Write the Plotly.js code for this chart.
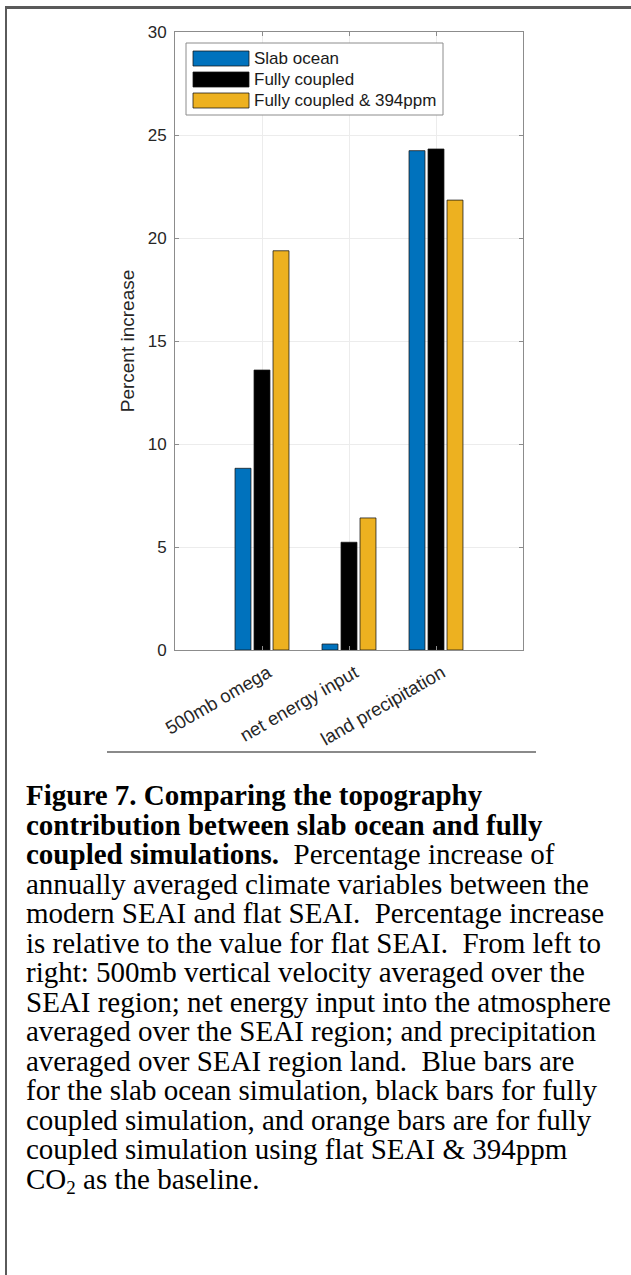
<!DOCTYPE html>
<html>
<head>
<meta charset="utf-8">
<script src="https://cdn.plot.ly/plotly-3.0.1.min.js"></script>
<style>
  html, body { margin: 0; padding: 0; background: #ffffff; }
  body { position: relative; width: 631px; height: 1275px; overflow: hidden; }
  #chart { position: absolute; left: 0; top: 0; width: 631px; height: 760px; }
  .rule { position: absolute; }
  #frameTop { left: 5px; top: 6px; width: 626px; height: 2.5px; background: #5a5a5a; }
  #frameLeft { left: 5px; top: 6px; width: 2px; height: 1269px; background: #5a5a5a; }
  #separator { left: 107px; top: 751px; width: 429px; height: 1.5px; background: #8a8a8a; }
  #caption {
    position: absolute; left: 26px; top: 781px;
    font-family: "Liberation Serif", "Times New Roman", serif;
    font-size: 29px; color: #000;
  }
  #caption .ln { height: 29.5px; line-height: 29.5px; white-space: pre; }
  #caption .ln b { display: inline-block; height: 29.5px; line-height: 29.5px; font-weight: bold; }
  #caption .ln .sub { display: inline-block; font-size: 19px; line-height: 10px; height: 10px; vertical-align: -5px; }
</style>
</head>
<body>
<div class="rule" id="frameTop"></div>
<div class="rule" id="frameLeft"></div>
<div id="chart"></div>
<div class="rule" id="separator"></div>
<div id="caption"></div>
<script>
// Percent increase (modern vs. flat SEAI) for three climate variables
const categories = ['500mb omega', 'net energy input', 'land precipitation'];
const seriesNames = ['Slab ocean', 'Fully coupled', 'Fully coupled & 394ppm'];
const slabOcean = [8.82, 0.29, 24.24];
const fullyCoupled = [13.59, 5.23, 24.32];
const coupled394 = [19.38, 6.41, 21.84];
const yTickValues = [0, 5, 10, 15, 20, 25, 30];

const seriesValues = [slabOcean, fullyCoupled, coupled394];
const seriesColors = ['#0072BD', '#000000', '#EDB120'];

// plot area in page pixels
const M = { l: 175, r: 108, t: 32, b: 110 };
const W = 631, H = 760;
const plotW = W - M.l - M.r, plotH = H - M.t - M.b;
const px = x => (x - M.l) / plotW;          // page x -> paper x
const py = y => 1 - (y - M.t) / plotH;      // page y -> paper y

const traces = seriesValues.map((vals, i) => ({
  type: 'bar',
  name: seriesNames[i],
  x: categories,
  y: vals,
  marker: { color: seriesColors[i], line: { color: 'rgba(20,20,20,0.75)', width: 1 } },
  showlegend: false,
  hoverinfo: 'x+y'
}));

// boxed legend in the upper-left corner of the axes
const legBox = { x0: 186, x1: 443, y0: 43, y1: 115 };
const shapes = [{
  type: 'rect', xref: 'paper', yref: 'paper', layer: 'above',
  x0: px(legBox.x0), x1: px(legBox.x1), y0: py(legBox.y1), y1: py(legBox.y0),
  fillcolor: '#ffffff', line: { color: '#8c8c8c', width: 1 }
}];
const annotations = [];
seriesNames.forEach((name, i) => {
  const cy = 58.5 + i * 21;
  shapes.push({
    type: 'rect', xref: 'paper', yref: 'paper', layer: 'above',
    x0: px(193), x1: px(249), y0: py(cy + 7.5), y1: py(cy - 7.5),
    fillcolor: seriesColors[i], line: { color: 'rgba(20,20,20,0.75)', width: 1 }
  });
  annotations.push({
    xref: 'paper', yref: 'paper', x: px(252), y: py(cy),
    xanchor: 'left', yanchor: 'middle', showarrow: false,
    text: name, font: { size: 17, color: '#1a1a1a' }
  });
});

const axisCommon = {
  showline: true, linecolor: '#8c8c8c', linewidth: 1, mirror: 'ticks',
  ticks: 'inside', ticklen: 4, tickcolor: '#8c8c8c',
  showgrid: true, gridcolor: '#ececec', gridwidth: 1,
  zeroline: false
};

const layout = {
  width: W, height: H,
  margin: M,
  paper_bgcolor: 'rgba(0,0,0,0)',
  plot_bgcolor: '#ffffff',
  font: { family: 'Liberation Sans, Arial, sans-serif', color: '#262626' },
  barmode: 'group',
  bargap: 0.345,
  bargroupgap: 0.16,
  xaxis: Object.assign({}, axisCommon, {
    type: 'category', categoryorder: 'array', categoryarray: categories,
    range: [-1, 3], tickangle: -30,
    tickfont: { size: 18.5, color: '#262626' },
    ticklabelshift: 6, ticklabelstandoff: 4
  }),
  yaxis: Object.assign({}, axisCommon, {
    range: [0, 30], tickmode: 'array', tickvals: yTickValues,
    ticktext: yTickValues.map(String), ticklabelstandoff: 4,
    tickfont: { size: 17, color: '#262626' },
    title: { text: 'Percent increase', font: { size: 19, color: '#262626' }, standoff: 8 }
  }),
  shapes: shapes,
  annotations: annotations
};

Plotly.newPlot('chart', traces, layout, { displayModeBar: false, staticPlot: true });

// figure caption, one entry per printed line: [bold part, regular part]
const captionLines = [
  ['Figure 7. Comparing the topography', ''],
  ['contribution between slab ocean and fully', ''],
  ['coupled simulations.', '  Percentage increase of'],
  ['', 'annually averaged climate variables between the'],
  ['', 'modern SEAI and flat SEAI.  Percentage increase'],
  ['', 'is relative to the value for flat SEAI.  From left to'],
  ['', 'right: 500mb vertical velocity averaged over the'],
  ['', 'SEAI region; net energy input into the atmosphere'],
  ['', 'averaged over the SEAI region; and precipitation'],
  ['', 'averaged over SEAI region land.  Blue bars are'],
  ['', 'for the slab ocean simulation, black bars for fully'],
  ['', 'coupled simulation, and orange bars are for fully'],
  ['', 'coupled simulation using flat SEAI & 394ppm'],
  ['', 'CO_2 as the baseline.']
];
const esc = s => s.replace(/&/g, '&amp;');
document.getElementById('caption').innerHTML = captionLines.map(([b, r]) => {
  const body = esc(r).replace('_2', '<span class="sub">2</span>');
  return '<div class="ln">' + (b ? '<b>' + esc(b) + '</b>' : '') + body + '</div>';
}).join('');
</script>
</body>
</html>
